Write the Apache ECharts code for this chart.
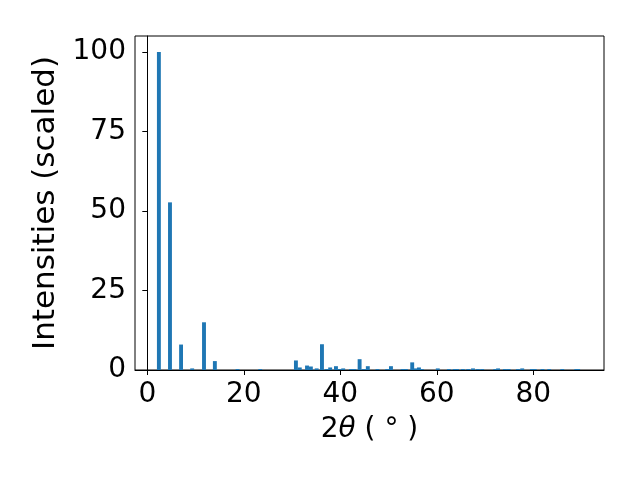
<!DOCTYPE html>
<html>
<head>
<meta charset="utf-8">
<script src="https://cdn.jsdelivr.net/npm/echarts@6/dist/echarts.min.js"></script>
<style>html,body{margin:0;padding:0;background:#fff}#c{width:640px;height:480px}</style>
</head>
<body>
<div id="c"></div>
<script>
var twoTheta = [2.4, 4.7, 7.0, 9.3, 11.75, 14.0, 18.7, 23.4, 30.8, 31.6, 33.1, 33.9, 35.1, 36.2, 37.2, 37.9, 39.1, 39.9, 40.6, 42.2, 42.9, 44.0, 44.9, 45.7, 47.7, 49.7, 50.5, 52.9, 53.6, 54.9, 55.5, 56.3, 56.9, 60.2, 62.5, 63.7, 64.2, 65.4, 66.5, 67.5, 68.5, 69.4, 72.1, 72.7, 74.1, 74.9, 76.8, 77.7, 79.7, 80.3, 81.9, 83.3, 86.0, 88.9, 89.3];
var intensity = [100, 52.7, 8.0, 0.5, 15.0, 2.8, 0.3, 0.3, 3.0, 0.8, 1.4, 1.1, 0.5, 8.1, 0.3, 0.8, 1.2, 0.3, 0.5, 0.3, 0.3, 3.4, 0.3, 1.2, 0.3, 0.3, 1.2, 0.3, 0.3, 2.4, 0.5, 0.8, 0.3, 0.5, 0.3, 0.3, 0.3, 0.3, 0.3, 0.5, 0.3, 0.3, 0.3, 0.5, 0.3, 0.3, 0.3, 0.5, 0.3, 0.3, 0.3, 0.3, 0.3, 0.3, 0.3];
var xTicks = [0, 20, 40, 60, 80];
var yTicks = [0, 25, 50, 75, 100];

var chart = echarts.init(document.getElementById('c'), null, {renderer: 'canvas'});
var data = twoTheta.map(function (x, i) { return [x, intensity[i]]; });
var font = 'DejaVu Sans';
chart.setOption({
  animation: false,
  grid: {left: 135, right: 36, top: 36, bottom: 110, show: true, borderColor: '#000', borderWidth: 1, backgroundColor: 'transparent'},
  xAxis: {
    type: 'value', min: -2.55, max: 94.65,
    name: '2{i|θ} ( ° )', nameLocation: 'middle', nameGap: 46,
    nameTextStyle: {fontFamily: font, fontSize: 28, color: '#000', rich: {i: {fontFamily: font, fontSize: 28, fontStyle: 'italic', color: '#000'}}},
    axisLine: {show: true, onZero: false, lineStyle: {color: '#000', width: 1}},
    axisTick: {show: true, length: 5, lineStyle: {color: '#000', width: 1}, customValues: xTicks},
    axisLabel: {fontFamily: font, fontSize: 28, color: '#000', margin: 11, customValues: xTicks},
    splitLine: {show: false}
  },
  yAxis: {
    type: 'value', min: 0, max: 105,
    name: 'Intensities (scaled)', nameLocation: 'middle', nameGap: 72, nameRotate: 90,
    nameTextStyle: {fontFamily: font, fontSize: 31, color: '#000'},
    axisLine: {show: true, lineStyle: {color: '#000', width: 1}},
    axisTick: {show: true, length: 5, lineStyle: {color: '#000', width: 1}, customValues: yTicks},
    axisLabel: {fontFamily: font, fontSize: 28, color: '#000', margin: 9, customValues: yTicks},
    splitLine: {show: false}
  },
  series: [{
    type: 'bar',
    data: data,
    barWidth: 3.9,
    itemStyle: {color: '#1f77b4'},
    large: false
  }]
});
</script>
</body>
</html>
